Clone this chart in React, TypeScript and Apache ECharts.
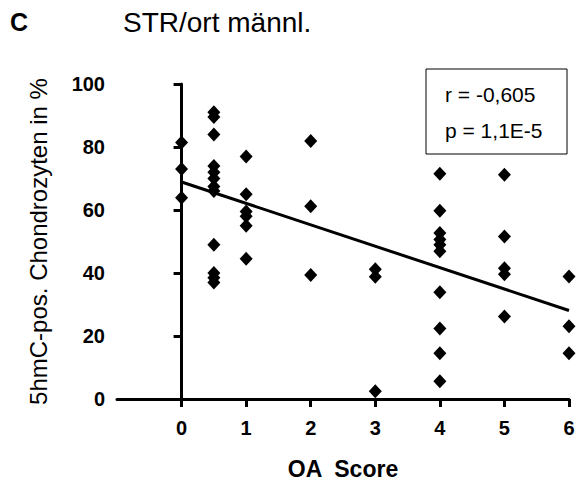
import React, { useEffect, useRef } from "react";
import * as echarts from "echarts";

// OA score per point and 5hmC-positive chondrocytes (%)
const scoreX: number[] = [
  0, 0, 0,
  0.5, 0.5, 0.5, 0.5, 0.5, 0.5, 0.5, 0.5, 0.5, 0.5, 0.5, 0.5,
  1, 1, 1, 1, 1, 1,
  2, 2, 2,
  3, 3, 3,
  4, 4, 4, 4, 4, 4, 4, 4, 4, 4,
  5, 5, 5, 5, 5,
  6, 6, 6,
];
const percentY: number[] = [
  81.4, 73.0, 63.9,
  91, 89.5, 84, 74, 72, 70, 67.5, 66, 49, 40, 38.5, 37,
  77, 65, 59.5, 58, 55, 44.5,
  81.9, 61.2, 39.4,
  41.2, 38.8, 2.5,
  71.5, 59.8, 52.7, 50.6, 49, 46.9, 33.9, 22.4, 14.5, 5.6,
  71.2, 51.6, 41.5, 39.6, 26.2,
  38.9, 23.1, 14.5,
];
// regression line endpoints
const fitX: number[] = [0, 6];
const fitY: number[] = [68.9, 28.1];
const xTicks: number[] = [0, 1, 2, 3, 4, 5, 6];
const statLines: string[] = ["r = -0,605", "p = 1,1E-5"];

export default function App() {
  const ref = useRef<HTMLDivElement>(null);
  useEffect(() => {
    if (!ref.current) return;
    const chart = echarts.init(ref.current, null, { renderer: "svg" });
    const font = "'Liberation Sans', Arial, sans-serif";
    chart.setOption({
      animation: false,
      backgroundColor: "#ffffff",
      grid: { left: 117, right: 9, top: 84, bottom: 82, containLabel: false },
      xAxis: {
        type: "value",
        min: -1,
        max: 6,
        interval: 1,
        name: "OA  Score",
        nameLocation: "middle",
        nameGap: 58,
        nameTextStyle: { fontFamily: font, fontWeight: "bold", fontSize: 23, color: "#000" },
        axisLine: { show: true, onZero: false, lineStyle: { color: "#000", width: 3 } },
        axisTick: { show: true, length: 8, customValues: xTicks, lineStyle: { color: "#000", width: 3 } },
        axisLabel: {
          customValues: xTicks,
          margin: 19,
          fontFamily: font,
          fontWeight: "bold",
          fontSize: 20,
          color: "#000",
        },
        splitLine: { show: false },
      },
      yAxis: {
        type: "value",
        min: 0,
        max: 100,
        interval: 20,
        name: "5hmC-pos. Chondrozyten in %",
        nameLocation: "middle",
        nameGap: 67,
        nameTextStyle: { fontFamily: font, fontSize: 24, color: "#000" },
        axisLine: { show: true, lineStyle: { color: "#000", width: 3 } },
        axisTick: { show: true, length: 8, lineStyle: { color: "#000", width: 3 } },
        axisLabel: { margin: 12, fontFamily: font, fontWeight: "bold", fontSize: 20, color: "#000" },
        splitLine: { show: false },
      },
      series: [
        {
          type: "scatter",
          symbol: "diamond",
          symbolSize: [13, 14],
          itemStyle: { color: "#000", opacity: 1 },
          data: scoreX.map((x, i) => [x, percentY[i]]),
          z: 3,
        },
        {
          type: "line",
          data: fitX.map((x, i) => [x, fitY[i]]),
          showSymbol: false,
          symbol: "none",
          lineStyle: { color: "#000", width: 3 },
          z: 2,
        },
      ],
      graphic: [
        {
          type: "text",
          left: 10,
          top: 9,
          style: { text: "C", font: `bold 25px ${font}`, fill: "#000" },
        },
        {
          type: "text",
          left: 123,
          top: 8,
          style: { text: "STR/ort männl.", font: `28px ${font}`, fill: "#000" },
        },
        {
          type: "rect",
          shape: { x: 426, y: 69, width: 141, height: 85 },
          style: { fill: "#fff", stroke: "#000", lineWidth: 1 },
          z: 10,
        },
        {
          type: "text",
          x: 445,
          y: 94,
          style: { text: statLines[0], font: `21px ${font}`, fill: "#000", align: "left", verticalAlign: "middle" },
          z: 11,
        },
        {
          type: "text",
          x: 445,
          y: 130,
          style: { text: statLines[1], font: `21px ${font}`, fill: "#000", align: "left", verticalAlign: "middle" },
          z: 11,
        },
      ],
    });
    return () => chart.dispose();
  }, []);
  return (
    <div
      ref={ref}
      style={{ position: "fixed", left: 0, top: 0, width: 578, height: 485 }}
    />
  );
}
